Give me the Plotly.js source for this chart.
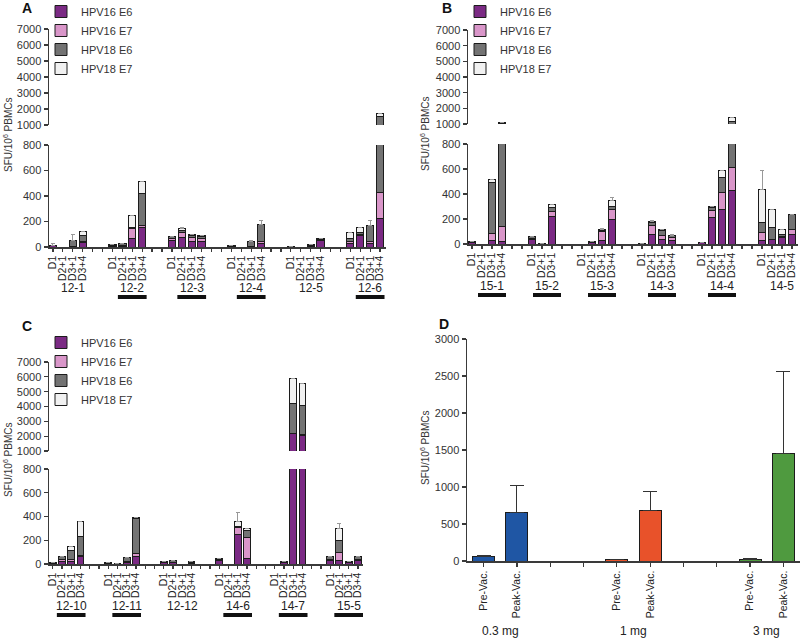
<!DOCTYPE html>
<html>
<head>
<meta charset="utf-8">
<script src="https://cdn.plot.ly/plotly-3.0.1.min.js"></script>
<style>
  html, body { margin: 0; padding: 0; background: #fff; }
  #graph { width: 800px; height: 638px; }
</style>
</head>
<body>
<div id="graph"></div>
<script>
// time points for each donor
var slots = ['D1', 'D2+1', 'D3+1', 'D3+4'];
var seriesNames = ['HPV16 E6', 'HPV16 E7', 'HPV18 E6', 'HPV18 E7'];
var seriesColors = ['#7b2a84', '#d996c9', '#737373', '#f1f1f1'];

// panel A
var aGroups = ['12-1', '12-2', '12-3', '12-4', '12-5', '12-6'];
var aCounts = [4, 4, 4, 4, 4, 4];
var aLined = ['12-2', '12-3', '12-4', '12-6'];
var a16E6 = [10, 0, 2, 35, 5, 5, 70, 150, 50, 75, 45, 40, 5, 0, 3, 30, 3, 0, 5, 50, 25, 90, 30, 220];
var a16E7 = [3, 0, 0, 10, 3, 5, 75, 20, 20, 40, 30, 30, 0, 0, 2, 15, 0, 0, 3, 10, 20, 10, 10, 205];
var a18E6 = [2, 0, 48, 45, 10, 15, 10, 250, 10, 15, 15, 15, 10, 0, 40, 135, 0, 0, 5, 5, 20, 15, 130, 1095];
var a18E7 = [0, 0, 0, 35, 0, 0, 95, 95, 5, 15, 10, 5, 0, 0, 0, 0, 0, 0, 7, 0, 50, 40, 0, 230];
var aErr = [10, 0, 45, 0, 0, 0, 0, 0, 0, 10, 0, 0, 0, 0, 5, 25, 0, 0, 0, 5, 0, 0, 35, 0];

// panel B
var bGroups = ['15-1', '15-2', '15-3', '14-3', '14-4', '14-5'];
var bCounts = [4, 3, 4, 4, 4, 4];
var bLined = ['15-1', '15-2', '15-3', '14-3', '14-4'];
var b16E6 = [15, 0, 30, 20, 40, 5, 220, 0, 10, 30, 200, 3, 75, 40, 30, 10, 210, 280, 430, 30, 35, 50, 80];
var b16E7 = [0, 0, 55, 120, 5, 0, 40, 0, 5, 70, 80, 0, 70, 30, 20, 0, 60, 130, 180, 60, 5, 10, 40];
var b18E6 = [5, 0, 410, 900, 15, 0, 30, 0, 5, 10, 20, 0, 25, 35, 15, 5, 20, 120, 520, 85, 90, 15, 120];
var b18E7 = [0, 0, 25, 60, 0, 0, 25, 0, 0, 5, 45, 0, 10, 10, 0, 0, 10, 60, 300, 260, 150, 45, 0];
var bErr = [0, 0, 0, 0, 0, 0, 0, 0, 0, 10, 30, 0, 5, 5, 15, 0, 0, 0, 0, 150, 0, 0, 0];

// panel C
var cGroups = ['12-10', '12-11', '12-12', '14-6', '14-7', '15-5'];
var cCounts = [4, 4, 4, 4, 4, 4];
var cLined = ['12-10', '12-11', '14-6', '14-7', '15-5'];
var c16E6 = [5, 25, 25, 60, 5, 3, 15, 65, 10, 10, 0, 5, 30, 0, 250, 50, 0, 10, 2150, 2050, 30, 30, 15, 30];
var c16E7 = [3, 10, 10, 10, 3, 1, 5, 25, 0, 5, 0, 5, 10, 0, 60, 170, 0, 5, 50, 50, 10, 70, 0, 10];
var c18E6 = [2, 25, 80, 160, 2, 1, 35, 290, 8, 15, 0, 15, 5, 0, 10, 60, 0, 5, 2000, 1950, 20, 100, 10, 20];
var c18E7 = [0, 0, 30, 130, 0, 0, 0, 15, 0, 0, 0, 0, 0, 0, 35, 15, 0, 0, 1700, 1500, 0, 100, 0, 0];
var cErr = [0, 0, 0, 0, 0, 0, 0, 0, 0, 0, 0, 0, 0, 0, 80, 0, 0, 0, 0, 0, 0, 40, 0, 0];

// panel D
var dDoses = ['0.3 mg', '1 mg', '3 mg'];
var dPhases = ['Pre-Vac.', 'Peak-Vac.'];
var dPre = [65, 20, 25];
var dPreErr = [15, 5, 10];
var dPeak = [650, 685, 1455];
var dPeakErr = [370, 255, 1110];
var dColors = ['#1f56a4', '#e8522a', '#4f9a3f'];

var FONT = 'Liberation Sans, Arial, sans-serif';
var INK = '#3a3a3a';
var W = 800, H = 638;

function px(x) { return x / W; }
function py(y) { return 1 - y / H; }

// positions: each donor gets its bars then two empty slots
function place(counts) {
    var pos = [], labels = [], starts = [], s = 0;
    counts.forEach(function(c) {
        starts.push(s);
        for (var i = 0; i < c; i++) { pos.push(s + i); labels.push(slots[i]); }
        s += c + 2;
    });
    return {pos: pos, labels: labels, starts: starts, last: s - 3};
}

var traces = [];
var annotations = [];
var shapes = [];

function addPanel(p) {
    var g = place(p.counts);
    var series = [p.e6, p.e7, p.f6, p.f7];
    series.forEach(function(vals, k) {
        [p.yUp, p.yLo].forEach(function(ya, j) {
            var t = {
                type: 'bar', x: g.pos, y: vals,
                xaxis: p.xa, yaxis: ya,
                name: seriesNames[k], legend: p.legend,
                legendgroup: p.legend + k, showlegend: j === 0,
                width: 0.74,
                marker: {color: seriesColors[k], line: {color: '#1c1c1c', width: 1}},
                hoverinfo: 'skip'
            };
            if (k === 3) {
                t.error_y = {type: 'data', array: p.err, symmetric: false,
                    arrayminus: p.err.map(function() { return 0; }),
                    color: '#999', thickness: 1, width: 2};
            }
            traces.push(t);
        });
    });

    // tick at every slot, label only under bars
    var tv = [], tt = [];
    for (var i = 0; i <= g.last; i++) {
        tv.push(i);
        var idx = g.pos.indexOf(i);
        tt.push(idx >= 0 ? g.labels[idx] : ' ');
    }
    p.xaxisObj.tickvals = tv;
    p.xaxisObj.ticktext = tt;

    p.groups.forEach(function(name, i) {
        var c = g.starts[i] + (p.counts[i] - 1) / 2 + 0.5;
        annotations.push({xref: p.xa, yref: 'paper', x: c, y: py(p.labelY),
            yanchor: 'middle', xanchor: 'center',
            text: name, showarrow: false, font: {size: 12, color: '#222', family: FONT}});
        if (p.lined.indexOf(name) >= 0) {
            shapes.push({type: 'line', xref: p.xa, yref: 'paper',
                x0: c - p.lineHalf, x1: c + p.lineHalf,
                y0: py(p.lineY), y1: py(p.lineY),
                line: {color: '#111', width: 4}});
        }
    });
}

function xAxis(domain, anchor, range) {
    return {domain: domain, anchor: anchor, range: range,
        showline: true, linecolor: INK, linewidth: 1.5,
        ticks: 'outside', ticklen: 3, tickcolor: INK, tickwidth: 1.2,
        tickangle: -90, tickfont: {size: 10.5, color: '#222', family: FONT},
        automargin: false,
        showgrid: false, zeroline: false, fixedrange: true};
}

function yAxis(domain, anchor, range, tickvals) {
    return {domain: domain, anchor: anchor, range: range, tickvals: tickvals,
        showline: true, linecolor: INK, linewidth: 1.5,
        ticks: 'outside', ticklen: 4, tickcolor: INK, tickwidth: 1.2,
        tickfont: {size: 11, color: '#333', family: FONT},
        automargin: false,
        showgrid: false, zeroline: false, fixedrange: true};
}

var upTicks = [1000, 2000, 3000, 4000, 5000, 6000, 7000];
var loTicks = [0, 200, 400, 600, 800];

var layout = {
    width: W, height: H,
    margin: {l: 0, r: 0, t: 0, b: 0, autoexpand: false},
    paper_bgcolor: '#fff', plot_bgcolor: 'rgba(0,0,0,0)',
    barmode: 'stack',
    font: {family: FONT, color: '#222'},
    xaxis: xAxis([px(49), px(386)], 'y2', [-0.4, 33.6]),
    yaxis: yAxis([py(125), py(29)], 'x', [1000, 7000], upTicks),
    yaxis2: yAxis([py(247), py(145)], 'x', [0, 800], loTicks),
    xaxis2: xAxis([px(468), px(798)], 'y4', [-0.4, 32.6]),
    yaxis3: yAxis([py(124), py(30)], 'x2', [1000, 7000], upTicks),
    yaxis4: yAxis([py(244), py(144)], 'x2', [0, 800], loTicks),
    xaxis3: xAxis([px(49), px(363)], 'y6', [-0.4, 33.55]),
    yaxis5: yAxis([py(451), py(362)], 'x3', [1000, 7000], upTicks),
    yaxis6: yAxis([py(564), py(469)], 'x3', [0, 800], loTicks),
    xaxis4: xAxis([px(467), px(800)], 'y7', [-0.5, 9.5]),
    yaxis7: yAxis([py(561), py(339)], 'x4', [0, 3000], [0, 500, 1000, 1500, 2000, 2500, 3000])
};

var legendBase = {
    xanchor: 'left', yanchor: 'top', bgcolor: 'rgba(0,0,0,0)',
    traceorder: 'normal', tracegroupgap: 0, itemwidth: 30,
    font: {size: 11, color: '#333', family: FONT}
};
layout.legend = Object.assign({}, legendBase, {x: px(41), y: py(-3)});
layout.legend2 = Object.assign({}, legendBase, {x: px(460), y: py(-3)});
layout.legend3 = Object.assign({}, legendBase, {x: px(41), y: py(328)});

addPanel({xa: 'x', yUp: 'y', yLo: 'y2', legend: 'legend', xaxisObj: layout.xaxis,
    groups: aGroups, counts: aCounts, lined: aLined,
    e6: a16E6, e7: a16E7, f6: a18E6, f7: a18E7, err: aErr,
    labelY: 288, lineY: 297, lineHalf: 1.45});
addPanel({xa: 'x2', yUp: 'y3', yLo: 'y4', legend: 'legend2', xaxisObj: layout.xaxis2,
    groups: bGroups, counts: bCounts, lined: bLined,
    e6: b16E6, e7: b16E7, f6: b18E6, f7: b18E7, err: bErr,
    labelY: 286, lineY: 295, lineHalf: 1.4});
addPanel({xa: 'x3', yUp: 'y5', yLo: 'y6', legend: 'legend3', xaxisObj: layout.xaxis3,
    groups: cGroups, counts: cCounts, lined: cLined,
    e6: c16E6, e7: c16E7, f6: c18E6, f7: c18E7, err: cErr,
    labelY: 606, lineY: 615, lineHalf: 1.55});

// panel D: pre / peak per dose, two empty slots between doses
var dX = [], dY = [], dE = [], dC = [], dTv = [], dTt = [];
dDoses.forEach(function(dose, i) {
    dX.push(4 * i, 4 * i + 1);
    dY.push(dPre[i], dPeak[i]);
    dE.push(dPreErr[i], dPeakErr[i]);
    dC.push(dColors[i], dColors[i]);
    annotations.push({xref: 'x4', yref: 'paper', x: 4 * i + 0.5, y: py(631),
        yanchor: 'middle', xanchor: 'center',
        text: dose, showarrow: false, font: {size: 12, color: '#222', family: FONT}});
});
for (var i = 0; i <= 9; i++) {
    dTv.push(i);
    dTt.push(i % 4 < 2 ? dPhases[i % 4] : ' ');
}
layout.xaxis4.tickvals = dTv;
layout.xaxis4.ticktext = dTt;
layout.xaxis4.ticklen = 4;

traces.push({
    type: 'bar', x: dX, y: dY, xaxis: 'x4', yaxis: 'y7', width: 0.66,
    showlegend: false, hoverinfo: 'skip',
    marker: {color: dC, line: {color: '#1c1c1c', width: 1}},
    error_y: {type: 'data', array: dE, symmetric: false, arrayminus: [0, 0, 0, 0, 0, 0],
        color: '#333', thickness: 1, width: 7}
});

// panel letters and y titles
[['A', 27, 8], ['B', 447, 8], ['C', 27, 326], ['D', 444, 324]].forEach(function(l) {
    annotations.push({xref: 'paper', yref: 'paper', x: px(l[1]), y: py(l[2]),
        yanchor: 'middle', xanchor: 'center',
        text: '<b>' + l[0] + '</b>', showarrow: false,
        font: {size: 14, color: '#111', family: FONT}});
});
[[8, 135], [425, 134], [8, 460], [425, 448]].forEach(function(t) {
    annotations.push({xref: 'paper', yref: 'paper', x: px(t[0]), y: py(t[1]),
        yanchor: 'middle', xanchor: 'center',
        text: 'SFU/10<sup>6</sup> PBMCs', textangle: -90, showarrow: false,
        font: {size: 10, color: '#333', family: FONT}});
});

layout.annotations = annotations;
layout.shapes = shapes;

Plotly.newPlot('graph', traces, layout, {staticPlot: true});
</script>
</body>
</html>
